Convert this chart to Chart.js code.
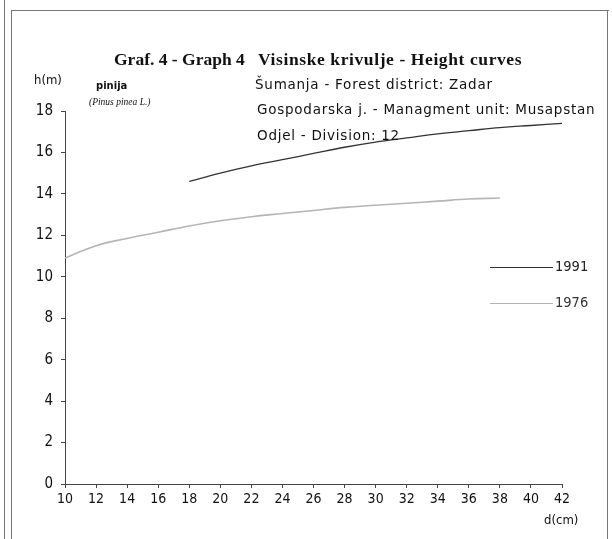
<!DOCTYPE html>
<html>
<head>
<meta charset="utf-8">
<script src="https://cdn.jsdelivr.net/npm/chart.js@4.4.0/dist/chart.umd.min.js"></script>
<style>
  html, body { margin: 0; padding: 0; background: #fff; }
  #wrap { position: relative; width: 612px; height: 539px; overflow: hidden; }
  canvas { position: absolute; left: 0; top: 0; }
  .t { position: absolute; white-space: nowrap; color: #111; }
  .sans { font-family: "DejaVu Sans", sans-serif; letter-spacing: 0.75px; }
  .cond { font-family: "DejaVu Sans Condensed", "DejaVu Sans", sans-serif; }
  .serif { font-family: "Liberation Serif", serif; font-weight: bold; font-size: 17.5px; }
  .vline { position: absolute; background: #777; }
</style>
</head>
<body>
<div id="wrap">
  <canvas id="c" width="612" height="539"></canvas>
  <div class="vline" style="left:4px;top:0;width:1px;height:539px;"></div>
  <div class="vline" style="left:11px;top:10px;width:1px;height:529px;"></div>
  <div class="vline" style="left:11px;top:10px;width:598px;height:1px;"></div>
  <div class="vline" style="left:607px;top:10px;width:1px;height:529px;"></div>

  <div class="t serif" style="left:114px;top:49px;letter-spacing:0;">Graf. 4 - Graph 4</div>
  <div class="t serif" style="left:258px;top:49px;letter-spacing:0.6px;">Visinske krivulje - Height curves</div>
  <div class="t cond" style="left:34px;top:72px;font-size:13px;">h(m)</div>
  <div class="t sans" style="left:96px;top:80px;font-size:10px;font-weight:bold;letter-spacing:0;">pinija</div>
  <div class="t" style="left:89px;top:97px;font-size:9.5px;font-style:italic;font-family:'Liberation Serif',serif;">(Pinus pinea L.)</div>
  <div class="t sans" style="left:255px;top:76px;font-size:13.5px;">Šumanja - Forest district: Zadar</div>
  <div class="t sans" style="left:257px;top:101px;font-size:13.5px;">Gospodarska j. - Managment unit: Musapstan</div>
  <div class="t sans" style="left:257px;top:127px;font-size:13.5px;">Odjel - Division: 12</div>
  <div class="t cond" style="left:544px;top:512px;font-size:13px;">d(cm)</div>

  <div style="position:absolute;left:490px;top:267px;width:63px;height:0;border-top:1.3px solid #333;"></div>
  <div class="t cond" style="left:555px;top:258px;font-size:14.5px;color:#222;">1991</div>
  <div style="position:absolute;left:490px;top:303px;width:63px;height:0;border-top:1.5px solid #b5b5b5;"></div>
  <div class="t cond" style="left:555px;top:294px;font-size:14.5px;color:#333;">1976</div>
</div>
<script>
const diameters1991 = [18, 20, 22, 24, 26, 28, 30, 32, 34, 36, 38, 40, 42];
const heights1991   = [14.6, 15.0, 15.35, 15.65, 15.95, 16.25, 16.5, 16.7, 16.9, 17.05, 17.2, 17.3, 17.4];
const diameters1976 = [10, 12, 14, 16, 18, 20, 22, 24, 26, 28, 30, 32, 34, 36, 38];
const heights1976   = [10.9, 11.5, 11.85, 12.15, 12.45, 12.7, 12.9, 13.05, 13.2, 13.35, 13.45, 13.55, 13.65, 13.75, 13.8];
const xTicks = [10, 12, 14, 16, 18, 20, 22, 24, 26, 28, 30, 32, 34, 36, 38, 40, 42];
const yTicks = [0, 2, 4, 6, 8, 10, 12, 14, 16, 18];

const pts = (xs, ys) => xs.map((x, i) => ({ x: x, y: ys[i] }));

const PAD_LEFT = 20, PAD_TOP = 111, PAD_RIGHT = 50, PAD_BOTTOM = 10;
const tickFamily = "'DejaVu Sans Condensed', 'DejaVu Sans', sans-serif";

new Chart(document.getElementById('c'), {
  type: 'line',
  data: {
    datasets: [
      { label: '1991', data: pts(diameters1991, heights1991), borderColor: '#333', borderWidth: 1.3, pointRadius: 0, tension: 0.4, fill: false },
      { label: '1976', data: pts(diameters1976, heights1976), borderColor: '#b5b5b5', borderWidth: 1.6, pointRadius: 0, tension: 0.4, fill: false }
    ]
  },
  options: {
    responsive: false,
    animation: false,
    events: [],
    layout: { padding: { left: PAD_LEFT, top: PAD_TOP, right: PAD_RIGHT, bottom: PAD_BOTTOM } },
    plugins: { legend: { display: false }, tooltip: { enabled: false }, title: { display: false } },
    scales: {
      x: {
        type: 'linear', min: 10, max: 42,
        afterBuildTicks: s => { s.ticks = xTicks.map(v => ({ value: v })); },
        afterFit: s => { s.height = 539 - 484 - PAD_BOTTOM; },
        border: { display: true, color: '#444', width: 1 },
        grid: { display: true, drawOnChartArea: false, drawTicks: true, tickLength: 4, color: '#444' },
        ticks: { color: '#111', padding: 3, maxRotation: 0, autoSkip: false, font: { family: tickFamily, size: 14 } }
      },
      y: {
        min: 0, max: 18,
        afterBuildTicks: s => { s.ticks = yTicks.map(v => ({ value: v })); },
        afterFit: s => { s.width = 65 - PAD_LEFT; },
        border: { display: true, color: '#444', width: 1 },
        grid: { display: true, drawOnChartArea: false, drawTicks: true, tickLength: 4, color: '#444' },
        ticks: { color: '#111', padding: 8, autoSkip: false, font: { family: tickFamily, size: 15 } }
      }
    }
  }
});
</script>
</body>
</html>
